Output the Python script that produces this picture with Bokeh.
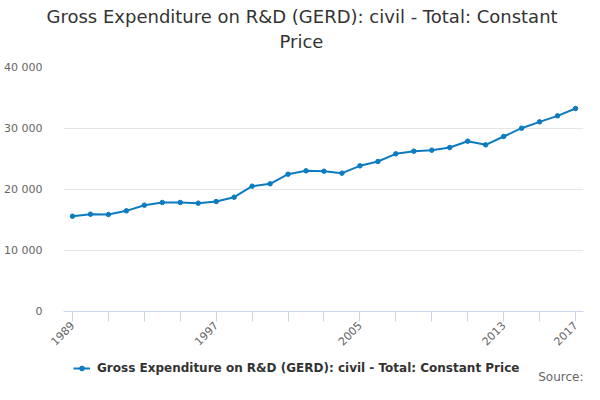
from bokeh.plotting import figure
from bokeh.models import (ColumnDataSource, Range1d, FixedTicker, CustomJSTickFormatter,
                          Legend, LegendItem, Label, Title)
from bokeh.layouts import column
from bokeh.embed import file_html
from bokeh.resources import INLINE
from math import pi

years = list(range(1989, 2018))
values = [15620, 15950, 15900, 16500, 17430, 17870, 17870, 17760, 18030, 18740,
          20550, 20930, 22510, 23060, 23000, 22680, 23880, 24590, 25850, 26280,
          26450, 26890, 27920, 27320, 28690, 30050, 31090, 32070, 33280]
x_ticks = list(range(1989, 2018, 2))
x_labels_shown = [1989, 1997, 2005, 2013, 2017]
y_ticks = [0, 10000, 20000, 30000, 40000]
series_name = "Gross Expenditure on R&D (GERD): civil - Total: Constant Price"
title_line1 = "Gross Expenditure on R&D (GERD): civil - Total: Constant"
title_line2 = "Price"
source_text = "Source:"

COLOR = "#0c7bc0"
FONT = "DejaVu Sans"
W = 584
LEFT = 63   # frame left edge, shared by all strips in the column

# ---- title strip (titles live in side panels, so they are not clipped) ----
p_title = figure(width=W, frame_height=1, output_backend="svg", toolbar_location=None,
                 title=None, x_axis_location=None, y_axis_location=None,
                 min_border_left=LEFT, min_border_right=1, min_border_top=0, min_border_bottom=0,
                 x_range=Range1d(0, 1), y_range=Range1d(0, 1))
p_title.outline_line_color = None
p_title.grid.visible = False
p_title.add_layout(Title(text=title_line1, align="left", offset=46 - LEFT, standoff=6,
                         vertical_align="bottom",
                         text_font=FONT, text_font_size="18px", text_font_style="normal",
                         text_color="#333333"), "above")
p_title.add_layout(Title(text=title_line2, align="left", offset=279 - LEFT, standoff=0,
                         vertical_align="top",
                         text_font=FONT, text_font_size="18px", text_font_style="normal",
                         text_color="#333333"), "below")

# ---- main chart ----
src = ColumnDataSource(data=dict(x=years, y=values))

p = figure(frame_width=520, frame_height=244, output_backend="svg", toolbar_location=None,
           title=None,
           x_range=Range1d(1988.5, 2017.445), y_range=Range1d(0, 40000),
           min_border_left=LEFT, min_border_right=1, min_border_top=14, min_border_bottom=48)
p.outline_line_color = None
p.background_fill_color = "white"

line = p.line("x", "y", source=src, line_color=COLOR, line_width=2)
pts = p.scatter("x", "y", source=src, size=4.5, fill_color=COLOR, line_color=COLOR)

p.xgrid.visible = False
p.ygrid.grid_line_color = "#e6e6e6"
p.ygrid.ticker = FixedTicker(ticks=y_ticks)

p.xaxis.ticker = FixedTicker(ticks=x_ticks)
p.xaxis.major_label_overrides = {t: (str(t) if t in x_labels_shown else "") for t in x_ticks}
p.xaxis.major_label_orientation = pi / 4
p.xaxis.axis_line_color = "#ccd6eb"
p.xaxis.major_tick_line_color = "#ccd6eb"
p.xaxis.major_tick_out = 10
p.xaxis.major_tick_in = 0
p.xaxis.minor_tick_line_color = None
p.xaxis.major_label_text_font = FONT
p.xaxis.major_label_text_font_size = "11px"
p.xaxis.major_label_text_color = "#666666"
p.xaxis.major_label_standoff = 2

p.yaxis.ticker = FixedTicker(ticks=y_ticks)
p.yaxis.formatter = CustomJSTickFormatter(
    code="return tick.toFixed(0).replace(/\\B(?=(\\d{3})+(?!\\d))/g, ' ');")
p.yaxis.axis_line_color = None
p.yaxis.major_tick_line_color = None
p.yaxis.minor_tick_line_color = None
p.yaxis.major_label_text_font = FONT
p.yaxis.major_label_text_font_size = "11px"
p.yaxis.major_label_text_color = "#666666"
p.yaxis.major_label_standoff = 15

# ---- legend / source strip ----
# the strip's ranges lie outside the data, so its copies of the series stay hidden
# and only serve as legend samples
p_leg = figure(width=W, height=25, output_backend="svg", toolbar_location=None,
               x_axis_location=None, y_axis_location=None,
               min_border_left=LEFT, min_border_right=1, min_border_top=0, min_border_bottom=0,
               x_range=Range1d(0, 1), y_range=Range1d(0, 1))
p_leg.outline_line_color = None
p_leg.grid.visible = False
leg_line = p_leg.line("x", "y", source=src, line_color=COLOR, line_width=2)
leg_pts = p_leg.scatter("x", "y", source=src, size=4.5, fill_color=COLOR, line_color=COLOR)
legend = Legend(items=[LegendItem(label=series_name, renderers=[leg_line, leg_pts])],
                location=(73 - LEFT, 9), orientation="horizontal",
                label_text_font=FONT, label_text_font_size="12px",
                label_text_font_style="bold", label_text_color="#333333",
                glyph_width=17, glyph_height=12, border_line_color=None,
                background_fill_alpha=0, padding=0, margin=0, label_standoff=7)
p_leg.add_layout(legend, "center")
p_leg.add_layout(Label(x=583 - LEFT, y=8, x_units="screen", y_units="screen", text=source_text,
                       text_font=FONT, text_font_size="12px", text_color="#666666",
                       text_align="right", text_baseline="alphabetic"))

layout = column(p_title, p, p_leg, spacing=0)
open("out.html", "w").write(file_html(layout, INLINE))
